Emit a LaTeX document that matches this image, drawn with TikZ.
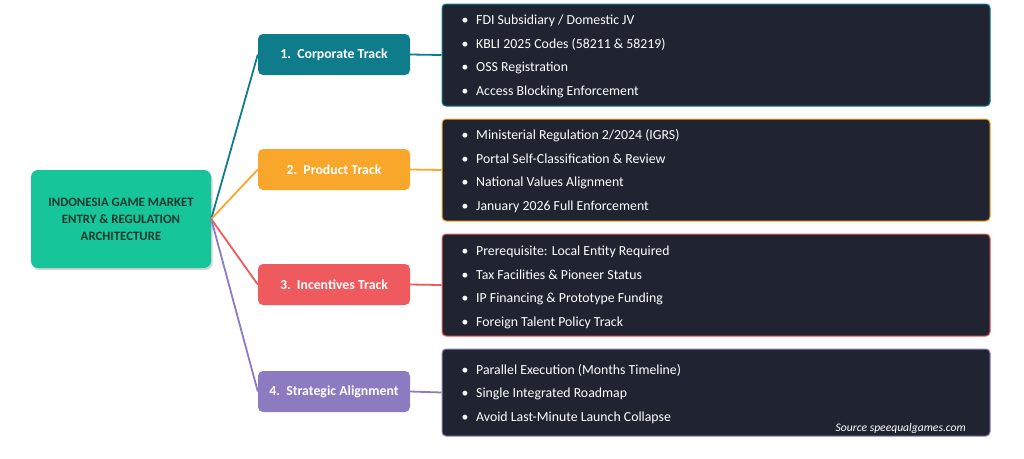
\documentclass[tikz,border=0pt]{standalone}
\usepackage{fontspec}
\setmainfont{Carlito}
\usetikzlibrary{shadows}
\definecolor{rootc}{HTML}{17C59B}
\definecolor{roottxt}{HTML}{17392F}
\definecolor{corpc}{HTML}{0E7C8B}
\definecolor{prodc}{HTML}{F8A72A}
\definecolor{incc}{HTML}{EE5A5E}
\definecolor{stratc}{HTML}{8D7BC1}
\definecolor{darkc}{HTML}{1F2430}
\tikzset{
  rootbox/.style={fill=rootc, rounded corners=7pt, minimum width=180pt, minimum height=98pt,
    align=center, text=roottxt, font=\fontsize{12.8}{17}\selectfont\bfseries,
    drop shadow={shadow xshift=1.5pt, shadow yshift=-2pt, opacity=0.35}},
  trackbox/.style={fill=#1, rounded corners=5pt, minimum width=152pt, minimum height=41pt,
    text=white, font=\fontsize{13.8}{15}\selectfont\bfseries},
  detailbox/.style={fill=darkc, draw=#1, line width=1pt, rounded corners=4pt,
    minimum width=548pt},
  item/.style={anchor=base west, text=white, inner sep=0pt, font=\fontsize{13.8}{15}\selectfont},
  bul/.style={anchor=base, text=white, inner sep=0pt, font=\fontsize{13.8}{15}\selectfont},
  link/.style={draw=#1, line width=1.8pt},
}
\begin{document}
\begin{tikzpicture}[x=1pt,y=-1pt]
\useasboundingbox (0,0) rectangle (1024,458);

\node[rootbox] (root) at (121,219) {INDONESIA GAME MARKET\\ENTRY \& REGULATION\\ARCHITECTURE};

\node[trackbox=corpc] (t1) at (334,54.5) {1.\ \ Corporate Track};
\node[trackbox=prodc] (t2) at (334,169.5) {2.\ \ Product Track};
\node[trackbox=incc] (t3) at (334,284.5) {3.\ \ Incentives Track};
\node[trackbox=stratc] (t4) at (334,391.5) {4.\ \ Strategic Alignment};

\node[detailbox=corpc, minimum height=102pt] (d1) at (716,55) {};
\node[detailbox=prodc, minimum height=102pt] (d2) at (716,170) {};
\node[detailbox=incc, minimum height=102pt] (d3) at (716,285) {};
\node[detailbox=stratc, minimum height=87pt] (d4) at (716,392.5) {};

\draw[link=corpc] (root.east) -- (t1.west);
\draw[link=prodc] (root.east) -- (t2.west);
\draw[link=incc] (root.east) -- (t3.west);
\draw[link=stratc] (root.east) -- (t4.west);
\draw[link=corpc] (t1.east) -- (d1.west);
\draw[link=prodc] (t2.east) -- (d2.west);
\draw[link=incc] (t3.east) -- (d3.west);
\draw[link=stratc] (t4.east) -- (d4.west);

% box 1
\node[bul] (b11) at (465,24.5) {•}; \node[item] (i11) at (476,24.5) {FDI Subsidiary / Domestic JV};
\node[bul] (b12) at (465,48) {•}; \node[item] (i12) at (476,48) {KBLI 2025 Codes (58211 \& 58219)};
\node[bul] (b13) at (465,71.5) {•}; \node[item] (i13) at (476,71.5) {OSS Registration};
\node[bul] (b14) at (465,95) {•}; \node[item] (i14) at (476,95) {Access Blocking Enforcement};
% box 2
\node[bul] (b21) at (465,139.5) {•}; \node[item] (i21) at (476,139.5) {Ministerial Regulation 2/2024 (IGRS)};
\node[bul] (b22) at (465,163) {•}; \node[item] (i22) at (476,163) {Portal Self-Classification \& Review};
\node[bul] (b23) at (465,186.5) {•}; \node[item] (i23) at (476,186.5) {National Values Alignment};
\node[bul] (b24) at (465,210) {•}; \node[item] (i24) at (476,210) {January 2026 Full Enforcement};
% box 3
\node[bul] (b31) at (465,255.5) {•}; \node[item] (i31) at (476,255.5) {Prerequisite: Local Entity Required};
\node[bul] (b32) at (465,279) {•}; \node[item] (i32) at (476,279) {Tax Facilities \& Pioneer Status};
\node[bul] (b33) at (465,302.5) {•}; \node[item] (i33) at (476,302.5) {IP Financing \& Prototype Funding};
\node[bul] (b34) at (465,326) {•}; \node[item] (i34) at (476,326) {Foreign Talent Policy Track};
% box 4
\node[bul] (b41) at (465,374) {•}; \node[item] (i41) at (476,374) {Parallel Execution (Months Timeline)};
\node[bul] (b42) at (465,397.5) {•}; \node[item] (i42) at (476,397.5) {Single Integrated Roadmap};
\node[bul] (b43) at (465,421) {•}; \node[item] (i43) at (476,421) {Avoid Last-Minute Launch Collapse};
\node[anchor=base east, text=white, inner sep=0pt, font=\fontsize{11.6}{13}\selectfont\itshape] (src) at (966,431) {Source speequalgames.com};
\end{tikzpicture}
\end{document}
